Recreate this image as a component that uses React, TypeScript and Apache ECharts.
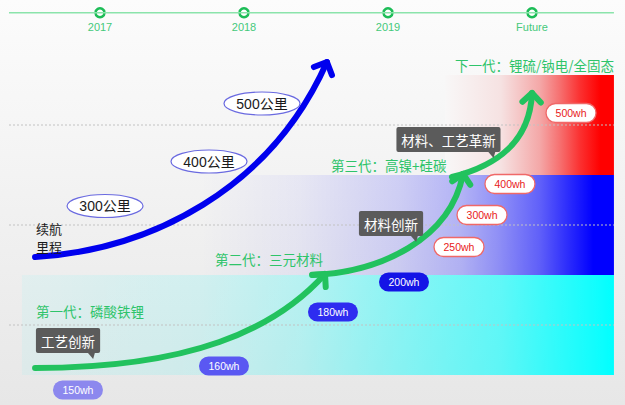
import { useEffect, useRef } from "react";
import * as echarts from "echarts";

// ---- data (x: period index, 2017 = 0 ... Future = 3; y: battery generation level) ----
const periods = ["2017", "2018", "2019", "Future"];
const timelineLevel = 3.623;

const densityLabels = ["150wh", "160wh", "180wh", "200wh", "250wh", "300wh", "400wh", "500wh"];
const densityX = [-0.153, 0.861, 1.618, 2.111, 2.493, 2.653, 2.847, 3.271];
const densityY = [-0.15, 0.09, 0.63, 0.93, 1.28, 1.6, 1.91, 2.62];

const rangeLabels = ["300公里", "400公里", "500公里"];
const rangeX = [0.035, 0.757, 1.125];
const rangeY = [1.69, 2.135, 2.715];

const generationLabels = ["第一代：磷酸铁锂", "第二代：三元材料", "第三代：高镍+硅碳", "下一代：锂硫/钠电/全固态"];
const generationX = [-0.444, 0.799, 1.604, 2.465];
const generationY = [0.64, 1.16, 2.1, 3.1];

const innovationLabels = ["工艺创新", "材料创新", "材料、工艺革新"];
const innovationX = [-0.222, 2.021, 2.42];
const innovationY = [0.345, 1.515, 2.355];

const rangeTitleLines = ["续航", "里程"];
const rangeTitleX = -0.444;
const rangeTitleY = [1.47, 1.285];

const rangeCurve = [[-0.451, 1.18], [0.347, 1.25], [1.181, 1.85], [1.576, 3.13]];
const densityCurves = [
  [[-0.451, 0.07], [0.625, 0.07], [1.215, 0.45], [1.5625, 1.01]],
  [[1.479, 1.0], [1.944, 1.03], [2.431, 1.35], [2.521, 2.01]],
  [[2.444, 1.98], [2.778, 2.1], [2.986, 2.35], [3.0, 2.82]],
];

const bandLevels = [0, 1, 2];
const bandStart = [-0.542, 0.694, 2.396];
const bandEnd = 3.569;
const guideLevels = [0.5, 1.5, 2.5];
const guideStart = -0.632;
const guideEnd = 3.569;

// ---- styles ----
const LATIN = '"Liberation Sans", "Noto Sans CJK SC", sans-serif';
const CJK = '"Noto Sans CJK SC", "Liberation Sans", sans-serif';
const GREEN = "#22c25e";
const BLUE = "#0000ee";

const bandStops = [
  [
    [0, "rgba(0,255,255,0.05)"],
    [0.3, "rgba(0,255,255,0.12)"],
    [0.47, "rgba(0,255,255,0.23)"],
    [0.64, "rgba(0,255,255,0.42)"],
    [0.81, "rgba(0,255,255,0.6)"],
    [0.97, "rgba(0,255,255,0.93)"],
    [1, "rgba(0,255,255,1)"],
  ],
  [
    [0, "rgba(0,0,255,0)"],
    [0.24, "rgba(0,0,255,0.05)"],
    [0.48, "rgba(0,0,255,0.15)"],
    [0.63, "rgba(0,0,255,0.26)"],
    [0.72, "rgba(0,0,255,0.4)"],
    [0.82, "rgba(0,0,255,0.6)"],
    [0.89, "rgba(0,0,255,0.82)"],
    [0.95, "rgba(0,0,255,1)"],
    [1, "rgba(0,0,255,1)"],
  ],
  [
    [0, "#f8f7f7"],
    [0.33, "#f6e2e2"],
    [0.56, "#f4a8a8"],
    [0.68, "#f67070"],
    [0.8, "#fb3030"],
    [0.92, "#ff0000"],
    [1, "#ff0000"],
  ],
];

const pillFill = ["#8c88ee", "#5a58f2", "#2e2cf0", "#1414e6", "#ffffff", "#ffffff", "#ffffff", "#ffffff"];
const pillText = ["#ffffff", "#ffffff", "#ffffff", "#ffffff", "#e82020", "#e82020", "#e82020", "#e82020"];
const pillStroke = [null, null, null, null, "#f06868", "#f06868", "#f06868", "#f06868"];

function curveRenderer(curves: number[][][], color: string, width: number, arm: number) {
  return (params: any, api: any) => {
    const c = curves[params.dataIndex];
    const [p0, p1, p2, p3] = c.map((pt) => api.coord(pt));
    const dx = p3[0] - p2[0];
    const dy = p3[1] - p2[1];
    const len = Math.hypot(dx, dy) || 1;
    const bx = -dx / len;
    const by = -dy / len;
    const k = Math.SQRT1_2 * arm;
    const a1 = [p3[0] + k * (bx - by), p3[1] + k * (bx + by)];
    const a2 = [p3[0] + k * (bx + by), p3[1] + k * (-bx + by)];
    return {
      type: "group",
      children: [
        {
          type: "bezierCurve",
          shape: { x1: p0[0], y1: p0[1], cpx1: p1[0], cpy1: p1[1], cpx2: p2[0], cpy2: p2[1], x2: p3[0], y2: p3[1] },
          style: { stroke: color, lineWidth: width, fill: "none", lineCap: "round" },
        },
        {
          type: "polyline",
          shape: { points: [a1, p3, a2] },
          style: { stroke: color, lineWidth: width, fill: "none", lineCap: "round", lineJoin: "round" },
        },
      ],
    };
  };
}

function textEl(x: number, y: number, text: string, fill: string, fontSize: number) {
  return {
    type: "text",
    x,
    y,
    style: {
      text,
      fill,
      fontSize,
      fontFamily: CJK,
      align: "left",
      verticalAlign: "middle",
      textAlign: "left",
      textVerticalAlign: "middle",
    },
  };
}

export default function App() {
  const ref = useRef<HTMLDivElement>(null);

  useEffect(() => {
    const chart = echarts.init(ref.current!, null, { renderer: "svg" });

    const option: any = {
      animation: false,
      grid: { left: 0, right: 0, top: 0, bottom: 0 },
      xAxis: { type: "value", min: -100 / 144, max: 525 / 144, show: false },
      yAxis: { type: "value", min: -0.3, max: 3.75, show: false },
      series: [
        {
          type: "custom",
          data: bandLevels.map((l, i) => [bandStart[i], l]),
          renderItem: (params: any, api: any) => {
            const i = params.dataIndex;
            const tl = api.coord([bandStart[i], bandLevels[i] + 1]);
            const br = api.coord([bandEnd, bandLevels[i]]);
            return {
              type: "rect",
              shape: { x: tl[0], y: tl[1], width: br[0] - tl[0], height: br[1] - tl[1] },
              style: {
                fill: new echarts.graphic.LinearGradient(
                  0, 0, 1, 0,
                  bandStops[i].map(([offset, color]) => ({ offset: offset as number, color: color as string }))
                ),
              },
            };
          },
        },
        {
          type: "custom",
          data: guideLevels.map((l) => [guideStart, l]),
          renderItem: (params: any, api: any) => {
            const l = guideLevels[params.dataIndex];
            const a = api.coord([guideStart, l]);
            const b = api.coord([guideEnd, l]);
            return {
              type: "line",
              shape: { x1: a[0], y1: a[1], x2: b[0], y2: b[1] },
              style: { stroke: "#c2c2c2", lineWidth: 1, lineDash: [2, 2] },
            };
          },
        },
        {
          type: "line",
          data: [[guideStart, timelineLevel], [guideEnd, timelineLevel]],
          symbol: "none",
          lineStyle: { color: "#8be4ab", width: 1.5 },
          silent: true,
        },
        {
          type: "scatter",
          data: periods.map((_, i) => [i, timelineLevel]),
          symbol: "circle",
          symbolSize: 9,
          itemStyle: { color: "#ffffff", borderColor: "#1dbd57", borderWidth: 2.5, opacity: 1 },
          label: {
            show: true,
            position: "bottom",
            distance: 3,
            formatter: (p: any) => periods[p.dataIndex],
            color: "#45c97a",
            fontSize: 11,
            fontFamily: LATIN,
          },
        },
        {
          type: "custom",
          data: [rangeCurve[3]],
          renderItem: curveRenderer([rangeCurve], BLUE, 6, 14),
        },
        {
          type: "custom",
          data: densityCurves.map((c) => c[3]),
          renderItem: curveRenderer(densityCurves, GREEN, 6, 13),
        },
        {
          type: "custom",
          data: rangeLabels.map((_, i) => [rangeX[i], rangeY[i]]),
          renderItem: (params: any, api: any) => {
            const i = params.dataIndex;
            const p = api.coord([rangeX[i], rangeY[i]]);
            return {
              type: "ellipse",
              shape: { cx: p[0], cy: p[1], rx: 38, ry: 11.5 },
              style: { fill: "#ffffff", stroke: "#6a6ae0", lineWidth: 1.2 },
              textContent: { style: { text: rangeLabels[i], fill: "#1a1a1a", fontSize: 14, fontFamily: LATIN } },
              textConfig: { position: "inside" },
            };
          },
        },
        {
          type: "custom",
          data: densityLabels.map((_, i) => [densityX[i], densityY[i]]),
          renderItem: (params: any, api: any) => {
            const i = params.dataIndex;
            const p = api.coord([densityX[i], densityY[i]]);
            const w = 50;
            const h = 19;
            return {
              type: "rect",
              shape: { x: p[0] - w / 2, y: p[1] - h / 2, width: w, height: h, r: h / 2 },
              style: { fill: pillFill[i], stroke: pillStroke[i] || "none", lineWidth: 1.3 },
              textContent: { style: { text: densityLabels[i], fill: pillText[i], fontSize: 10.5, fontFamily: LATIN } },
              textConfig: { position: "inside" },
            };
          },
        },
        {
          type: "custom",
          data: innovationLabels.map((_, i) => [innovationX[i], innovationY[i]]),
          renderItem: (params: any, api: any) => {
            const i = params.dataIndex;
            const p = api.coord([innovationX[i], innovationY[i]]);
            const w = innovationLabels[i].length * 13.3 + 11;
            const h = 25;
            const left = p[0] - w / 2;
            const top = p[1] - h / 2;
            const right = left + w;
            const bottom = top + h;
            return {
              type: "group",
              children: [
                {
                  type: "polygon",
                  shape: { points: [[right - 13, bottom - 1], [right - 5, bottom - 1], [right - 7, bottom + 6]] },
                  style: { fill: "#5b5b5b" },
                },
                {
                  type: "rect",
                  shape: { x: left, y: top, width: w, height: h, r: 2 },
                  style: { fill: "#5b5b5b" },
                  textContent: { style: { text: innovationLabels[i], fill: "#ffffff", fontSize: 13.5, fontFamily: CJK } },
                  textConfig: { position: "inside" },
                },
              ],
            };
          },
        },
        {
          type: "custom",
          data: generationLabels.map((_, i) => [generationX[i], generationY[i]]),
          renderItem: (params: any, api: any) => {
            const i = params.dataIndex;
            const p = api.coord([generationX[i], generationY[i]]);
            return textEl(p[0], p[1], generationLabels[i], "#2ec46a", 13.5);
          },
        },
        {
          type: "custom",
          data: rangeTitleLines.map((_, i) => [rangeTitleX, rangeTitleY[i]]),
          renderItem: (params: any, api: any) => {
            const i = params.dataIndex;
            const p = api.coord([rangeTitleX, rangeTitleY[i]]);
            return textEl(p[0], p[1], rangeTitleLines[i], "#1a1a1a", 13);
          },
        },
      ],
    };

    chart.setOption(option);
    return () => chart.dispose();
  }, []);

  return (
    <div
      ref={ref}
      style={{
        position: "fixed",
        left: 0,
        top: 0,
        width: 625,
        height: 405,
        background: "linear-gradient(#fcfcfc, #e7e7e7)",
      }}
    />
  );
}
